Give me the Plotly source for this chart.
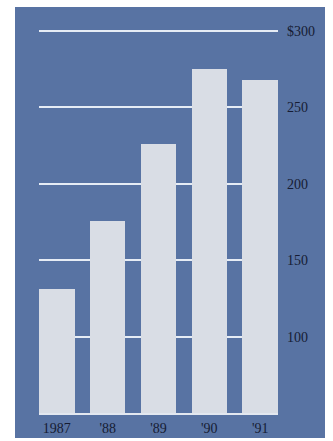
import plotly.graph_objects as go

years = ["1987", "'88", "'89", "'90", "'91"]
values = [131, 176, 226, 275, 268]
tick_vals = [100, 150, 200, 250, 300]
tick_text = ["100", "150", "200", "250", "$300"]

fig = go.Figure()
fig.add_trace(go.Bar(
    x=list(range(len(years))), y=[v - 50 for v in values], base=50,
    width=0.7, marker=dict(color="#d9dde5", line=dict(width=0)),
    hoverinfo="skip",
))

plot_h = 441 - 28 - 28  # 385

fig.update_layout(
    width=333, height=441,
    margin=dict(l=39, r=55, t=28, b=28),
    paper_bgcolor="white",
    plot_bgcolor="rgba(0,0,0,0)",
    showlegend=False,
    bargap=0,
    font=dict(family="Liberation Serif", size=14, color="#161c33"),
    xaxis=dict(
        range=[-0.35, 4.35], tickmode="array",
        tickvals=list(range(len(years))), ticktext=years,
        showgrid=False, zeroline=False,
        showline=True, linecolor="#e3e8f0", linewidth=2,
        ticks="", ticklabelstandoff=1,
        automargin=False, fixedrange=True,
    ),
    yaxis=dict(
        range=[50, 302], side="right",
        tickmode="array", tickvals=tick_vals, ticktext=tick_text,
        showgrid=True, gridcolor="#e6ecf5", gridwidth=2,
        zeroline=False, showline=False, ticks="",
        ticklabelstandoff=8,
        automargin=False, fixedrange=True,
    ),
    shapes=[dict(
        type="rect", xref="paper", yref="paper",
        x0=-24/239, x1=(325-39)/239,
        y0=-(438-413)/plot_h, y1=1 + (28-7)/plot_h,
        fillcolor="#5873a3", line=dict(width=0), layer="below",
    )],
)

fig.write_html("out.html")
